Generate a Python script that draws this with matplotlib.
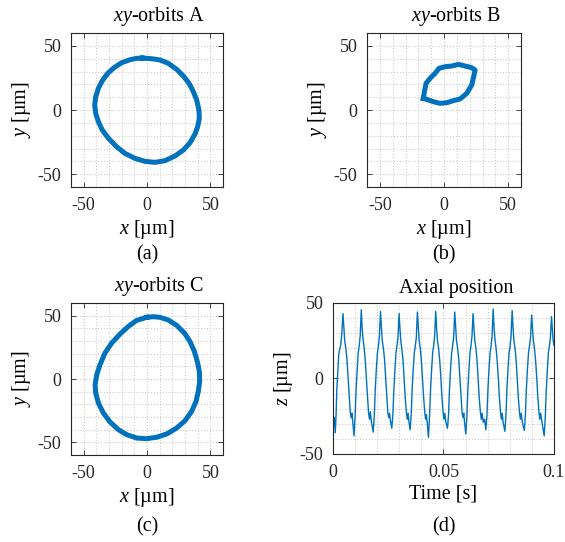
import numpy as np
import matplotlib
matplotlib.use("Agg")
import matplotlib.pyplot as plt
from matplotlib.ticker import MultipleLocator, FuncFormatter

plt.rcParams['font.family'] = ['Liberation Serif', 'DejaVu Serif']
plt.rcParams['mathtext.fontset'] = 'custom'
plt.rcParams['mathtext.rm'] = 'Liberation Serif'
plt.rcParams['mathtext.it'] = 'Liberation Serif:italic'
plt.rcParams['axes.unicode_minus'] = False

# orbit A (x, y in um), read around the loop
orbit_a_x = [-3.7, 3.7, 10.3, 16.8, 23.4, 28.7, 33.2, 36.6, 39.2, 41, 41.3, 40, 37.9, 34, 28.7, 22.1,
             14.2, 6.3, -1.6, -9.5, -17.4, -24, -30.5, -35.3, -38.4, -40.5, -41.3, -40.5, -38.4,
             -35.3, -31, -25.8, -20, -13.4, -8.2, -3.7]
orbit_a_y = [40.5, 40, 39, 36.4, 31.7, 26.5, 20.8, 14.3, 7.8, 0, -6.5, -13, -18.7, -25.5, -31.2, -35.8,
             -39.5, -40.8, -40, -37.7, -33.8, -28.6, -22, -15.6, -9.1, -2.6, 3.9, 10.4, 16.9,
             22.9, 28.6, 33.2, 36.9, 39.2, 40.3, 40.5]

# orbit B
orbit_b_x = [-16.1, -15.3, -14, -10.9, -7, -3.9, 0.8, 6, 11.2, 16.4, 21, 24.2, 23.1, 21.6, 17.7,
             12.5, 7.3, 2.1, -3.1, -8.3, -13.5, -16.1]
orbit_b_y = [9.1, 14.3, 20.8, 24.7, 28.6, 32.5, 33.8, 34.3, 35.6, 34.3, 33.2, 31.2, 26, 19.5, 13,
             8.6, 7.3, 5.7, 5.2, 6.5, 8.3, 9.1]

# orbit C
orbit_c_x = [-0.3, 5, 10.3, 16.8, 23.4, 29.5, 33.9, 37.4, 39.7, 41.3, 41.6, 40.5, 38.7, 35.3, 30,
             23.4, 15.5, 7.6, -0.3, -8.2, -16.1, -22.6, -29.2, -34.5, -38.4, -40.5, -41, -39.7,
             -37.1, -33.2, -27.9, -21.3, -14.7, -8.2, -0.3]
orbit_c_y = [48.7, 49.2, 48.7, 46.6, 42.4, 36.3, 29.7, 21.8, 13.9, 6, -1.8, -9.7, -17.6, -25.5, -32.9,
             -38.7, -43.4, -46, -47.1, -46.6, -43.9, -40, -33.9, -26.8, -18.9, -11.1, -4.5, 3.4,
             11.3, 20.5, 28.4, 35.5, 41.6, 46.3, 48.7]

# axial position, time in ms and z in um
t_ms = [0.0, 0.3, 0.6, 1.0, 1.4, 1.7, 2.2, 2.6, 3.1, 3.5, 4.0, 4.5,
        4.9, 5.3, 5.8, 6.3, 6.8, 7.3, 7.8, 8.2, 8.6, 9.0, 9.5, 10.0, 10.4, 10.9, 11.4, 11.8, 12.3, 12.8,
        13.2, 13.6, 14.1, 14.6, 15.1, 15.6, 16.1, 16.5, 16.9, 17.4, 18.2, 18.7, 19.1, 19.6, 20.1, 20.5, 21.0, 21.5,
        21.9, 22.3, 22.8, 23.3, 23.8, 24.3, 24.8, 25.2, 25.6, 26.0, 26.6, 27.1, 27.5, 28.0, 28.5, 28.9, 29.4, 29.9,
        30.3, 30.7, 31.2, 31.7, 32.2, 32.7, 33.2, 33.6, 34.0, 34.4, 34.9, 35.4, 35.8, 36.3, 36.8, 37.2, 37.7, 38.2,
        38.6, 39.0, 39.5, 40.0, 40.5, 41.0, 41.5, 41.9, 42.3, 42.7, 43.2, 43.7, 44.1, 44.6, 45.1, 45.5, 46.0, 46.5,
        46.9, 47.3, 47.8, 48.3, 48.8, 49.3, 49.8, 50.2, 50.6, 51.1, 51.8, 52.3, 52.7, 53.2, 53.7, 54.1, 54.6, 55.1,
        55.5, 55.9, 56.4, 56.9, 57.4, 57.9, 58.4, 58.8, 59.2, 59.6, 60.1, 60.6, 61.0, 61.5, 62.0, 62.4, 62.9, 63.4,
        63.8, 64.2, 64.7, 65.2, 65.7, 66.2, 66.7, 67.1, 67.5, 68.0, 68.6, 69.2, 69.7, 70.1, 70.6, 71.1, 71.5, 72.0, 72.5,
        72.9, 73.3, 73.8, 74.3, 74.8, 75.3, 75.8, 76.2, 76.6, 77.0, 77.8, 78.3, 78.7, 79.2, 79.7, 80.1, 80.6, 81.1,
        81.5, 81.9, 82.4, 82.9, 83.4, 83.9, 84.4, 84.8, 85.2, 85.7, 86.6, 87.1, 87.5, 88.0, 88.5, 88.9, 89.4, 89.9,
        90.3, 90.7, 91.2, 91.7, 92.2, 92.7, 93.2, 93.6, 94.0, 94.6, 95.6, 96.1, 96.5, 97.0, 97.5, 97.9, 98.4, 98.9,
        99.3, 99.6, 100.0]
z_um = [-27, -31, -26, -36, -24, -8, 6, 16, 20, 22, 30, 43,
        34, 25, 20, 13, 1, -12, -22, -26, -23, -30, -38, -25, -9, 5, 17, 21, 28, 45.5,
        33, 26, 20, 12, 0, -13, -23, -27, -22, -29, -35.5, -24, -8, 6, 17, 21, 28, 44.4,
        34, 25, 20, 13, 1, -12, -22, -26, -23, -28, -33, -24, -9, 5, 17, 21, 27, 43,
        33, 25, 19, 12, 0, -13, -22, -27, -23, -29, -34, -24, -8, 6, 17, 21, 27, 44,
        34, 25, 20, 12, 0, -12, -22, -27, -24, -30, -39, -25, -9, 5, 17, 21, 28, 44.4,
        33, 25, 20, 12, 1, -12, -22, -27, -23, -29, -33, -24, -8, 6, 17, 21, 27, 44,
        34, 25, 20, 13, 1, -12, -22, -26, -23, -30, -36.7, -25, -9, 5, 17, 21, 28, 43,
        33, 25, 20, 12, 0, -13, -22, -27, -23, -29, -27, -34, -24, -8, 6, 17, 21, 28, 46,
        34, 26, 20, 12, 1, -12, -22, -27, -23, -29, -35, -24, -8, 6, 17, 21, 28, 45,
        33, 25, 20, 12, 0, -13, -22, -27, -23, -29, -34.4, -24, -8, 6, 17, 21, 27, 42,
        33, 25, 20, 12, 1, -12, -22, -27, -23, -29, -38, -25, -9, 5, 17, 21, 27, 41,
        33, 26, 22]

blue = '#0072BD'
grid_kw = dict(color='#cccccc', linestyle=':', linewidth=0.8)


def style_axes(ax, major, minor):
    ax.xaxis.set_major_locator(MultipleLocator(major[0]))
    ax.yaxis.set_major_locator(MultipleLocator(major[1]))
    ax.xaxis.set_minor_locator(MultipleLocator(minor[0]))
    ax.yaxis.set_minor_locator(MultipleLocator(minor[1]))
    ax.grid(True, which='both', **grid_kw)
    ax.set_axisbelow(True)
    ax.tick_params(which='major', direction='in', length=3.5, width=0.6,
                   top=True, right=True, labelsize=13, pad=7, colors='#262626')
    ax.tick_params(which='minor', length=0)
    for s in ax.spines.values():
        s.set_color('#262626')
        s.set_linewidth(0.8)


fig = plt.figure(figsize=(5.65, 5.42), dpi=100)

axA = fig.add_axes([0.1257, 0.655, 0.269, 0.284])
axB = fig.add_axes([0.6496, 0.655, 0.2726, 0.284])
axC = fig.add_axes([0.1257, 0.1605, 0.269, 0.2804])
axD = fig.add_axes([0.5894, 0.1624, 0.391, 0.2786])

orbits = [(axA, orbit_a_x, orbit_a_y, 'A'),
          (axB, orbit_b_x, orbit_b_y, 'B'),
          (axC, orbit_c_x, orbit_c_y, 'C')]
for ax, ox, oy, name in orbits:
    ax.plot(ox, oy, color=blue, linewidth=3.6, solid_joinstyle='round')
    ax.set_xlim(-60, 60)
    ax.set_ylim(-60, 60)
    style_axes(ax, (50, 50), (10, 10))
    ax.set_xlabel(r'$\it{x}$ [µm]', fontsize=14.5, labelpad=3)
    ax.set_ylabel(r'$\it{y}$ [µm]', fontsize=14.5, labelpad=3)
    w = ax.get_position().width * 565
    ax.text(0.5 + 12 / w, 1.03, r'$\it{xy}$-orbits ' + name, transform=ax.transAxes,
            ha='center', va='bottom', fontsize=14.5)

axD.plot(np.array(t_ms) / 1000, z_um, color=blue, linewidth=1.0)
axD.set_xlim(0, 0.1)
axD.set_ylim(-50, 50)
style_axes(axD, (0.05, 50), (0.01, 10))
axD.xaxis.set_major_formatter(FuncFormatter(lambda v, p: '%g' % round(v, 3)))
axD.set_xlabel('Time [s]', fontsize=14.5, labelpad=3)
axD.set_ylabel(r'$\it{z}$ [µm]', fontsize=14.5, labelpad=3)
axD.text(0.5 + 13 / (0.391 * 565), 1.03, 'Axial position', transform=axD.transAxes,
         ha='center', va='bottom', fontsize=14.5)

fig.text(147 / 565, 1 - 255 / 542, '(a)', ha='center', va='center', fontsize=14.5)
fig.text(444 / 565, 1 - 255 / 542, '(b)', ha='center', va='center', fontsize=14.5)
fig.text(147 / 565, 1 - 527 / 542, '(c)', ha='center', va='center', fontsize=14.5)
fig.text(444 / 565, 1 - 527 / 542, '(d)', ha='center', va='center', fontsize=14.5)

fig.savefig('out.png', dpi=100)
